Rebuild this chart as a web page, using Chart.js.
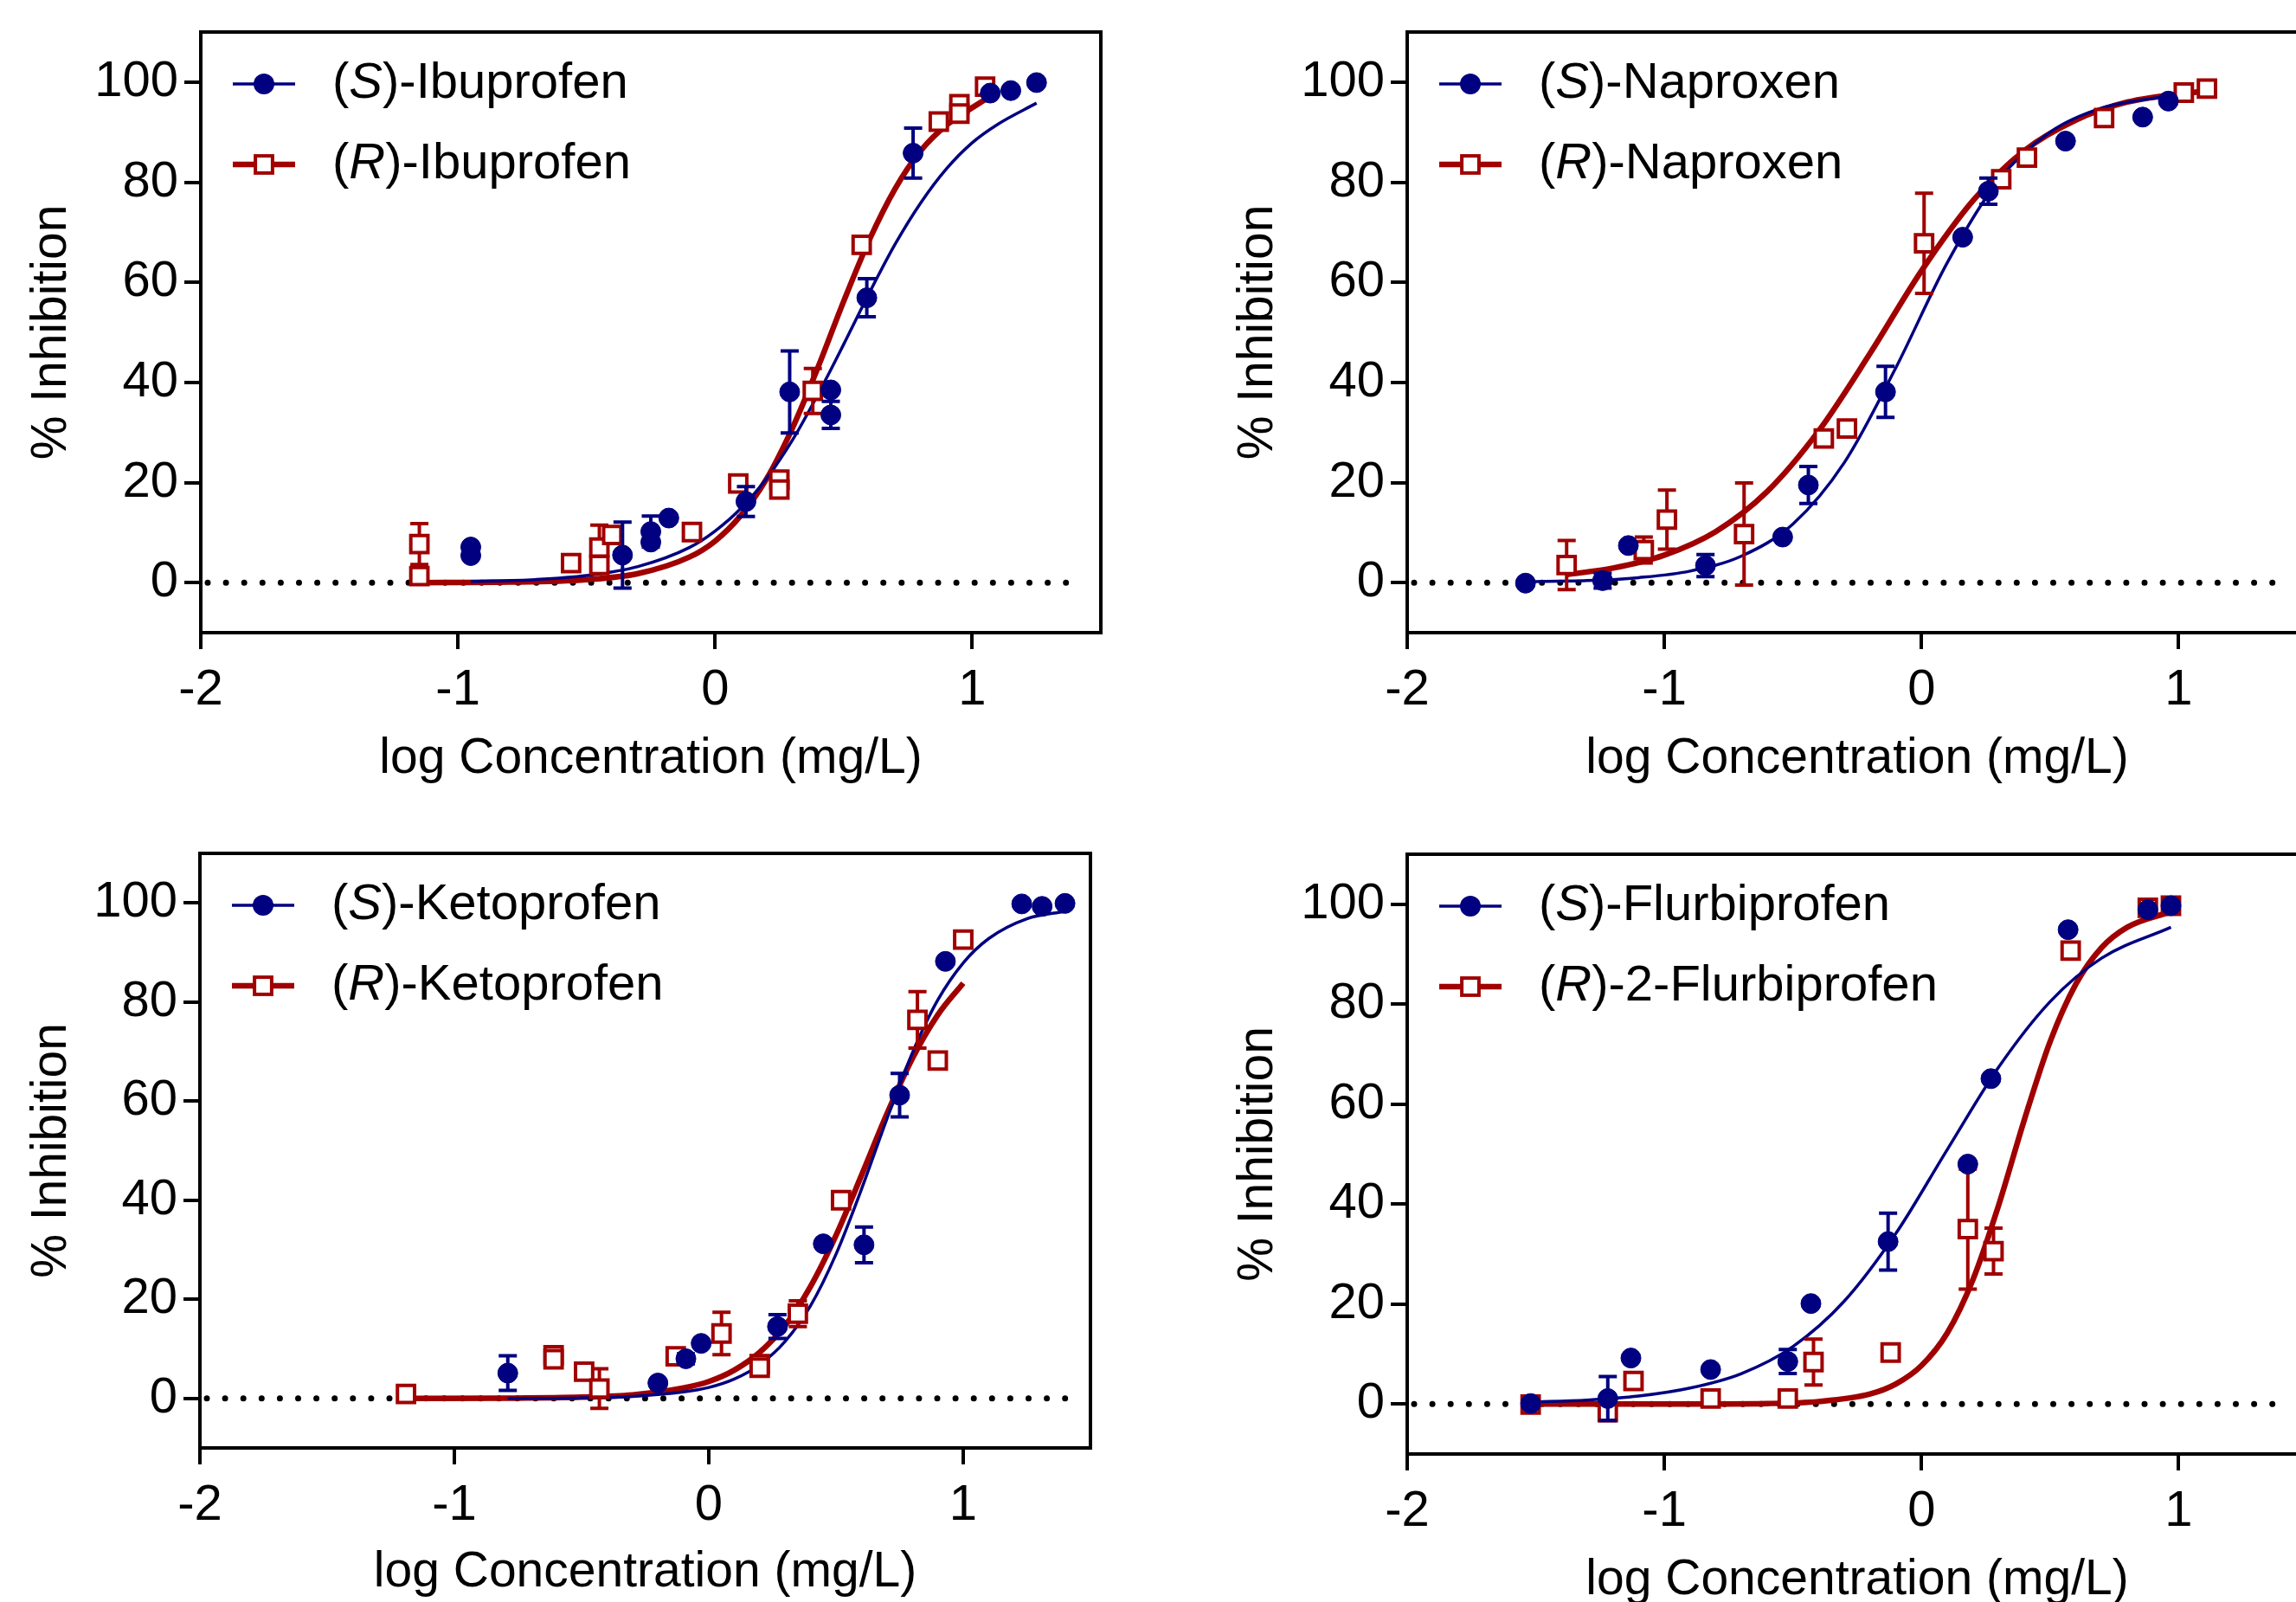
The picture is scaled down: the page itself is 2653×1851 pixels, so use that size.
<!DOCTYPE html>
<html>
<head>
<meta charset="utf-8">
<title>% Inhibition vs log Concentration</title>
<script src="https://cdn.jsdelivr.net/npm/chart.js@4.4.1/dist/chart.umd.min.js"></script>
<style>
  html, body { margin: 0; padding: 0; background: #fff; overflow: hidden; }
  #page { position: relative; width: 2653px; height: 1851px; overflow: hidden; background: #fff; }
  .panel { position: absolute; }
</style>
</head>
<body>
<div id="page">
  <canvas class="panel" id="c1" width="1300" height="930" style="left:0px;top:0px"></canvas>
  <canvas class="panel" id="c2" width="1300" height="930" style="left:1394px;top:0px"></canvas>
  <canvas class="panel" id="c3" width="1300" height="930" style="left:0px;top:949px"></canvas>
  <canvas class="panel" id="c4" width="1300" height="930" style="left:1394px;top:950px"></canvas>
</div>
<script>
const FONT = '"Liberation Sans", Arial, Helvetica, sans-serif';
const BLUE = '#000080';
const RED = '#a00000';

// shared axes
const xTicks = [-2, -1, 0, 1];
const yTicks = [0, 20, 40, 60, 80, 100];

// --- Ibuprofen ---
const ibuSX   = [-0.95, -0.95, -0.36, -0.25, -0.25, -0.18, 0.12, 0.29, 0.45, 0.45, 0.59, 0.77, 1.07, 1.15, 1.25];
const ibuSY   = [7.1, 5.4, 5.5, 10.2, 8.1, 12.9, 16.2, 38.1, 38.5, 33.5, 56.9, 85.8, 97.8, 98.3, 99.9];
const ibuSErr = [0, 0, 6.6, 3.1, 0, 0, 3.0, 8.2, 0, 2.7, 3.8, 5.0, 0, 0, 0];
const ibuRX   = [-1.15, -1.15, -0.56, -0.45, -0.45, -0.40, -0.09, 0.09, 0.25, 0.25, 0.38, 0.57, 0.87, 0.95, 0.95, 1.05];
const ibuRY   = [7.7, 1.3, 3.9, 7.0, 3.5, 9.5, 10.1, 19.8, 20.6, 18.6, 38.3, 67.5, 92.1, 95.6, 93.7, 99.1];
const ibuRErr = [4.1, 1.5, 0, 4.5, 0, 0, 0, 0, 0, 0, 4.5, 0, 0, 0, 0, 0];
const ibuSFitX = [-0.95, -0.7, -0.5, -0.3, -0.1, 0, 0.1, 0.2, 0.3, 0.4, 0.5, 0.6, 0.7, 0.8, 0.9, 1.0, 1.1, 1.25];
const ibuSFitY = [0.2, 0.6, 1.4, 3.2, 7.0, 10.3, 14.8, 20.8, 28.4, 37.6, 47.6, 57.9, 67.6, 75.9, 82.7, 87.9, 91.6, 95.8];
const ibuRFitX = [-1.15, -0.8, -0.5, -0.3, -0.1, 0, 0.1, 0.2, 0.3, 0.4, 0.5, 0.6, 0.7, 0.8, 0.9, 1.05];
const ibuRFitY = [0.0, 0.1, 0.6, 1.8, 5.1, 8.3, 13.4, 20.7, 30.8, 43.0, 56.2, 68.5, 78.7, 86.3, 91.4, 96.5];

// --- Naproxen ---
const napSX   = [-1.54, -1.24, -1.14, -0.84, -0.54, -0.44, -0.14, 0.16, 0.26, 0.56, 0.86, 0.96];
const napSY   = [-0.1, 0.4, 7.4, 3.4, 9.1, 19.5, 38.1, 69.0, 78.2, 88.2, 93.0, 96.2];
const napSErr = [0, 1.5, 0, 2.2, 0, 3.7, 5.1, 0, 2.6, 0, 0, 0];
const napRX   = [-1.38, -1.08, -0.99, -0.69, -0.38, -0.29, 0.01, 0.31, 0.41, 0.71, 1.02, 1.11];
const napRY   = [3.5, 6.5, 12.6, 9.7, 28.8, 30.8, 67.8, 80.6, 84.9, 92.8, 97.9, 98.7];
const napRErr = [4.9, 2.6, 5.9, 10.2, 0, 0, 10.0, 0, 0, 0, 0, 0];
const napSFitX = [-1.54, -1.3, -1.1, -0.9, -0.7, -0.5, -0.3, -0.1, 0.1, 0.3, 0.5, 0.7, 0.97];
const napSFitY = [0.2, 0.4, 1.0, 2.3, 5.3, 11.7, 24.0, 42.9, 63.9, 80.4, 90.0, 94.8, 97.3];
const napRFitX = [-1.38, -1.2, -1.0, -0.8, -0.6, -0.4, -0.2, 0, 0.2, 0.4, 0.6, 0.8, 1.11];
const napRFitY = [1.6, 2.9, 5.5, 10.2, 18.2, 30.3, 45.8, 62.3, 76.3, 86.3, 92.4, 96.0, 98.3];

// --- Ketoprofen ---
const ketSX   = [-0.79, -0.20, -0.09, -0.03, 0.27, 0.45, 0.61, 0.75, 0.93, 1.23, 1.31, 1.40];
const ketSY   = [5.1, 3.1, 8.0, 11.1, 14.5, 31.2, 31.0, 61.2, 88.2, 99.8, 99.3, 99.9];
const ketSErr = [3.5, 0, 1.0, 0, 2.4, 0, 3.6, 4.4, 0, 0, 0, 0];
const ketRX   = [-1.19, -0.61, -0.61, -0.49, -0.43, -0.13, 0.05, 0.20, 0.20, 0.35, 0.52, 0.82, 0.90, 1.00];
const ketRY   = [0.9, 8.7, 7.9, 5.4, 2.0, 8.5, 13.1, 6.9, 6.2, 17.1, 40.0, 76.4, 68.2, 92.6];
const ketRErr = [0, 0, 0, 0, 4.0, 0, 4.3, 0, 0, 2.6, 0, 5.7, 0, 0];
const ketSFitX = [-0.79, -0.5, -0.3, -0.1, 0, 0.1, 0.2, 0.3, 0.4, 0.5, 0.6, 0.7, 0.8, 0.9, 1.0, 1.1, 1.25, 1.4];
const ketSFitY = [0.0, 0.1, 0.4, 1.3, 2.2, 3.9, 6.8, 11.5, 18.7, 29.1, 42.2, 56.4, 69.7, 80.4, 87.9, 92.8, 96.8, 98.3];
const ketRFitX = [-1.19, -0.8, -0.5, -0.3, -0.1, 0, 0.1, 0.2, 0.3, 0.4, 0.5, 0.6, 0.7, 0.8, 0.9, 1.0];
const ketRFitY = [0.0, 0.05, 0.25, 0.7, 2.1, 3.4, 5.7, 9.3, 14.7, 22.6, 32.9, 45.0, 57.4, 68.6, 77.4, 83.8];

// --- Flurbiprofen ---
const fluSX   = [-1.52, -1.22, -1.13, -0.82, -0.52, -0.43, -0.13, 0.18, 0.27, 0.57, 0.88, 0.97];
const fluSY   = [0.1, 1.1, 9.2, 6.9, 8.5, 20.1, 32.5, 48.0, 65.1, 94.9, 98.9, 99.7];
const fluSErr = [0, 4.4, 0, 0, 2.4, 0, 5.7, 0, 0, 0, 0, 0];
const fluRX   = [-1.52, -1.22, -1.12, -0.82, -0.52, -0.42, -0.12, 0.18, 0.28, 0.58, 0.88, 0.97];
const fluRY   = [-0.1, -1.6, 4.6, 1.1, 1.1, 8.4, 10.3, 35.0, 30.6, 90.7, 99.3, 99.7];
const fluRErr = [0, 1.7, 0, 0, 0, 4.6, 0, 12.0, 4.6, 0, 0, 0];
const fluSFitX = [-1.52, -1.3, -1.1, -0.9, -0.7, -0.5, -0.3, -0.1, 0.1, 0.3, 0.5, 0.7, 0.97];
const fluSFitY = [0.4, 0.8, 1.6, 3.2, 6.1, 11.5, 20.6, 34.1, 50.9, 67.4, 80.5, 89.2, 95.4];
const fluRFitX = [-1.52, -1.0, -0.6, -0.4, -0.2, -0.1, 0, 0.1, 0.2, 0.3, 0.4, 0.5, 0.6, 0.7, 0.8, 0.97];
const fluRFitY = [0.0, 0.0, 0.1, 0.5, 2.0, 4.0, 7.7, 14.2, 24.9, 39.8, 56.9, 72.5, 84.0, 91.3, 95.4, 98.5];

// legend names: [S name, R name]
const ibuNames = ['Ibuprofen', 'Ibuprofen'];
const napNames = ['Naproxen', 'Naproxen'];
const ketNames = ['Ketoprofen', 'Ketoprofen'];
const fluNames = ['Flurbiprofen', '2-Flurbiprofen'];

Chart.defaults.font.family = FONT;
Chart.defaults.color = '#000';

function pts(xs, ys) {
  return xs.map((x, i) => ({ x: x, y: ys[i] }));
}

// dotted zero line + box frame
const framePlugin = {
  id: 'frame',
  beforeDatasetsDraw(chart) {
    const { ctx, chartArea: a } = chart;
    const y0 = chart.scales.y.getPixelForValue(0);
    ctx.save();
    ctx.beginPath();
    ctx.setLineDash([0, 21.1]);
    ctx.lineCap = 'round';
    ctx.lineWidth = 7;
    ctx.strokeStyle = '#000';
    ctx.moveTo(a.left + 8, y0);
    ctx.lineTo(a.right - 20, y0);
    ctx.stroke();
    ctx.restore();
  },
  afterDraw(chart) {
    const { ctx, chartArea: a } = chart;
    ctx.save();
    ctx.lineWidth = 4;
    ctx.strokeStyle = '#000';
    ctx.strokeRect(a.left, a.top, a.right - a.left, a.bottom - a.top);
    ctx.restore();
  }
};

// error bars drawn right before each point dataset
const errorBarPlugin = {
  id: 'errorBars',
  beforeDatasetDraw(chart, args) {
    const ds = chart.data.datasets[args.index];
    if (!ds.errors) return;
    const { ctx } = chart;
    const xs = chart.scales.x, ys = chart.scales.y;
    ctx.save();
    ctx.strokeStyle = ds.borderColor;
    ctx.lineWidth = 4;
    ds.data.forEach((p, i) => {
      const e = ds.errors[i];
      if (!e) return;
      const px = xs.getPixelForValue(p.x);
      const top = ys.getPixelForValue(p.y + e);
      const bot = ys.getPixelForValue(p.y - e);
      ctx.beginPath();
      ctx.moveTo(px, top); ctx.lineTo(px, bot);
      ctx.moveTo(px - 10.5, top); ctx.lineTo(px + 10.5, top);
      ctx.moveTo(px - 10.5, bot); ctx.lineTo(px + 10.5, bot);
      ctx.stroke();
    });
    ctx.restore();
  }
};

// legend inside the plot, top-left
const drugLegend = {
  id: 'drugLegend',
  afterDraw(chart, args, opts) {
    const { ctx, chartArea: a } = chart;
    const rows = [
      { letter: 'S', name: opts.names[0], color: BLUE, lw: 3.5, shape: 'circle' },
      { letter: 'R', name: opts.names[1], color: RED, lw: 6.5, shape: 'rect' }
    ];
    rows.forEach((r, k) => {
      const yy = a.top + (k === 0 ? 60 : 153);
      const x0 = a.left;
      ctx.save();
      ctx.strokeStyle = r.color;
      ctx.lineWidth = r.lw;
      ctx.beginPath();
      ctx.moveTo(x0 + 37, yy);
      ctx.lineTo(x0 + 109, yy);
      ctx.stroke();
      if (r.shape === 'circle') {
        ctx.fillStyle = BLUE;
        ctx.beginPath();
        ctx.arc(x0 + 73, yy, 12, 0, Math.PI * 2);
        ctx.fill();
      } else {
        ctx.fillStyle = '#fff';
        ctx.lineWidth = 4;
        ctx.fillRect(x0 + 73 - 9.9, yy - 9.9, 19.8, 19.8);
        ctx.strokeRect(x0 + 73 - 9.9, yy - 9.9, 19.8, 19.8);
      }
      ctx.fillStyle = '#000';
      ctx.textBaseline = 'middle';
      ctx.textAlign = 'left';
      let tx = x0 + 152;
      ctx.font = '58px ' + FONT;
      ctx.fillText('(', tx, yy);
      tx += ctx.measureText('(').width;
      ctx.font = 'italic 58px ' + FONT;
      ctx.fillText(r.letter, tx, yy);
      tx += ctx.measureText(r.letter).width;
      ctx.font = '58px ' + FONT;
      ctx.fillText(')-' + r.name, tx, yy);
      ctx.restore();
    });
  }
};

function makeChart(p) {
  const tickFont = { family: FONT, size: 58 };
  const titleFont = { family: FONT, size: 57 };
  return new Chart(document.getElementById(p.id), {
    type: 'scatter',
    data: {
      datasets: [
        {
          label: '(S) points', data: pts(p.sX, p.sY), errors: p.sErr,
          pointStyle: 'circle', pointRadius: 11.5, borderWidth: 1,
          backgroundColor: BLUE, borderColor: BLUE, order: 1
        },
        {
          label: '(R) points', data: pts(p.rX, p.rY), errors: p.rErr,
          pointStyle: 'rect', pointRadius: 14, borderWidth: 4,
          backgroundColor: '#fff', borderColor: RED, order: 2
        },
        {
          label: '(S) fit', data: pts(p.sFitX, p.sFitY), showLine: true,
          pointRadius: 0, borderColor: BLUE, borderWidth: 3.5,
          cubicInterpolationMode: 'monotone', order: 3
        },
        {
          label: '(R) fit', data: pts(p.rFitX, p.rFitY), showLine: true,
          pointRadius: 0, borderColor: RED, borderWidth: 6.5,
          cubicInterpolationMode: 'monotone', order: 4
        }
      ]
    },
    options: {
      responsive: false,
      animation: false,
      devicePixelRatio: 1,
      events: [],
      layout: { padding: { left: 0, top: 37, right: p.padRight, bottom: 0 } },
      plugins: {
        legend: { display: false },
        tooltip: { enabled: false },
        drugLegend: { names: p.names }
      },
      scales: {
        x: {
          type: 'linear', min: -2, max: 1.5,
          afterBuildTicks: s => { s.ticks = xTicks.map(v => ({ value: v })); },
          afterFit: s => { s.height = p.xAxisH; s.paddingLeft = 0; s.paddingRight = 0; },
          grid: { drawOnChartArea: false, drawTicks: true, tickLength: 19, tickWidth: 4, tickColor: '#000', lineWidth: 4, color: '#000' },
          border: { display: true, width: 4, color: '#000' },
          ticks: { font: tickFont, color: '#000', padding: 13, maxRotation: 0, autoSkip: false, callback: v => String(v) },
          title: { display: true, text: 'log Concentration (mg/L)', font: titleFont, color: '#000', padding: { top: 0, bottom: p.xTitlePad } }
        },
        y: {
          type: 'linear', min: -10, max: 110,
          afterBuildTicks: s => { s.ticks = yTicks.map(v => ({ value: v })); },
          afterFit: s => { s.width = p.yAxisW; s.paddingTop = 0; s.paddingBottom = 0; },
          grid: { drawOnChartArea: false, drawTicks: true, tickLength: 19, tickWidth: 4, tickColor: '#000', lineWidth: 4, color: '#000' },
          border: { display: true, width: 4, color: '#000' },
          ticks: { font: tickFont, color: '#000', padding: 7, autoSkip: false, callback: v => String(v) },
          title: { display: true, text: '% Inhibition', font: titleFont, color: '#000', padding: { top: 26, bottom: 0 } }
        }
      }
    },
    plugins: [framePlugin, errorBarPlugin, drugLegend]
  });
}

const panels = [
  { id: 'c1', names: ibuNames, sX: ibuSX, sY: ibuSY, sErr: ibuSErr, rX: ibuRX, rY: ibuRY, rErr: ibuRErr,
    sFitX: ibuSFitX, sFitY: ibuSFitY, rFitX: ibuRFitX, rFitY: ibuRFitY,
    yAxisW: 232, padRight: 28, xAxisH: 199, xTitlePad: 19 },
  { id: 'c2', names: napNames, sX: napSX, sY: napSY, sErr: napSErr, rX: napRX, rY: napRY, rErr: napRErr,
    sFitX: napSFitX, sFitY: napSFitY, rFitX: napRFitX, rFitY: napRFitY,
    yAxisW: 232, padRight: 28, xAxisH: 199, xTitlePad: 19 },
  { id: 'c3', names: ketNames, sX: ketSX, sY: ketSY, sErr: ketSErr, rX: ketRX, rY: ketRY, rErr: ketRErr,
    sFitX: ketSFitX, sFitY: ketSFitY, rFitX: ketRFitX, rFitY: ketRFitY,
    yAxisW: 231, padRight: 40, xAxisH: 206, xTitlePad: 28 },
  { id: 'c4', names: fluNames, sX: fluSX, sY: fluSY, sErr: fluSErr, rX: fluRX, rY: fluRY, rErr: fluRErr,
    sFitX: fluSFitX, sFitY: fluSFitY, rFitX: fluRFitX, rFitY: fluRFitY,
    yAxisW: 232, padRight: 28, xAxisH: 200, xTitlePad: 20 }
];

panels.forEach(makeChart);
</script>
</body>
</html>
